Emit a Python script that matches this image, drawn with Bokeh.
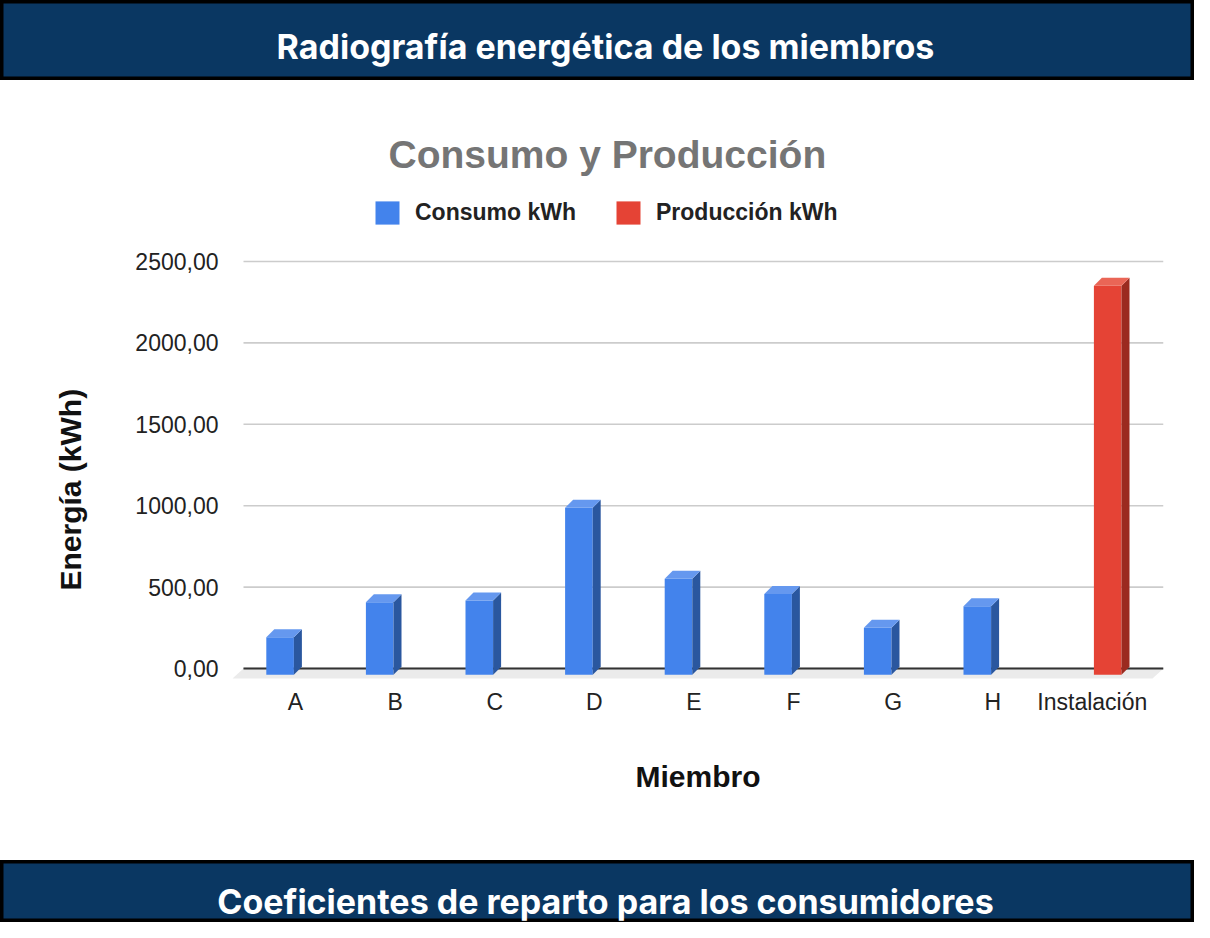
from bokeh.plotting import figure
from bokeh.models import Range1d, FixedTicker, Legend, LegendItem, Label, Title
from bokeh.layouts import column
from bokeh.embed import file_html
from bokeh.resources import INLINE

# ---------------- data ----------------
categorias = ["A", "B", "C", "D", "E", "F", "G", "H", "Instalación"]
consumo_kwh = [231, 446, 456, 1026, 590, 497, 289, 421, 0]
produccion_kwh = [0, 0, 0, 0, 0, 0, 0, 0, 2389]
series_names = ["Consumo kWh", "Producción kWh"]
y_ticks = [0, 500, 1000, 1500, 2000, 2500]
y_tick_labels = ["0,00", "500,00", "1000,00", "1500,00", "2000,00", "2500,00"]

header_text = "Radiografía energética de los miembros"
footer_text = "Coeficientes de reparto para los consumidores"
chart_title = "Consumo  y Producción"
y_title = "Energía (kWh)"
x_title = "Miembro"

# ---------------- style ----------------
W = 1194
HEADER_H, MAIN_H, FOOTER_H = 80, 780, 62
NAVY = "#0a3762"
FONT = "Liberation Sans"
BANNER_FONT = "Inter"

MB_LEFT, MB_RIGHT, MB_TOP, MB_BOTTOM = 232, 31, 110, 180
frame_w = W - MB_LEFT - MB_RIGHT
frame_h = MAIN_H - MB_TOP - MB_BOTTOM
PPU_X = 99.6          # pixels per category step
PPU_Y = 0.1628        # pixels per kWh
X0 = -63.0 / PPU_X
X1 = X0 + frame_w / PPU_X
Y0 = -12.0 / PPU_Y
Y1 = Y0 + frame_h / PPU_Y

BAR_W_PX = 27.6
DODGE_PX = 15.4
DEPTH_DX_PX, DEPTH_DY_PX = 8.0, 8.0
FRONT_DROP_PX = 6.3
FLOOR_DX_PX, FLOOR_DY_PX = 11.0, 10.0
GRID_LEFT_PX = 11.0

series_colors = [
    ("#4383ec", "#2a579f", "#6598ef"),  # front, side, top
    ("#e54335", "#9b2a1f", "#ea6556"),
]


def banner(h, text, ypos):
    b = figure(width=W, height=h, x_range=Range1d(0, 1), y_range=Range1d(0, 1),
               output_backend="svg", toolbar_location=None, min_border=0,
               x_axis_location=None, y_axis_location=None,
               background_fill_color=NAVY, border_fill_color=NAVY,
               outline_line_color="black", outline_line_width=6)
    b.frame_align = False
    b.grid.visible = False
    b.add_layout(Label(x=605 / W, y=ypos, text=text, text_align="center",
                       text_baseline="middle", text_color="white",
                       text_font=BANNER_FONT, text_font_style="bold",
                       text_font_size="34px"))
    return b


header = banner(HEADER_H, header_text, 0.425)
footer = banner(FOOTER_H, footer_text, 0.34)

# ---------------- main chart ----------------
p = figure(width=W, height=MAIN_H, x_range=Range1d(X0, X1), y_range=Range1d(Y0, Y1),
           output_backend="svg", toolbar_location=None,
           min_border_left=MB_LEFT, min_border_right=MB_RIGHT,
           min_border_top=MB_TOP, min_border_bottom=MB_BOTTOM,
           outline_line_color=None, background_fill_color="white",
           border_fill_color="white")
p.frame_align = False
p.xgrid.visible = False
p.ygrid.visible = False

p.title.text = chart_title
p.title.align = "left"
p.title.offset = 156
p.title.standoff = 30
p.title.text_font = FONT
p.title.text_font_size = "39px"
p.title.text_font_style = "bold"
p.title.text_color = "#757575"

# y axis
p.yaxis.ticker = FixedTicker(ticks=y_ticks, minor_ticks=[])
p.yaxis.major_label_overrides = dict(zip(y_ticks, y_tick_labels))
p.yaxis.major_label_standoff = 8
# x axis
x_idx = list(range(len(categorias)))
p.xaxis.ticker = FixedTicker(ticks=x_idx, minor_ticks=[])
p.xaxis.major_label_overrides = dict(zip(x_idx, categorias))
p.xaxis.axis_label = x_title
p.xaxis.major_label_standoff = 2
p.xaxis.axis_label_standoff = 42
for ax in (p.xaxis, p.yaxis):
    ax.axis_line_color = None
    ax.major_tick_line_color = None
    ax.minor_tick_line_color = None
    ax.major_label_text_font = FONT
    ax.major_label_text_font_size = "23px"
    ax.major_label_text_color = "#222222"
    ax.axis_label_text_font = FONT
    ax.axis_label_text_font_size = "30px"
    ax.axis_label_text_font_style = "bold"
    ax.axis_label_text_color = "#111111"

# y axis title, placed as a side title so it can sit lower than the frame centre
p.add_layout(Title(text=y_title, align="left", offset=90, standoff=92,
                   vertical_align="bottom", text_font=FONT, text_font_size="30px",
                   text_font_style="bold", text_color="#111111"), "left")

# floor, gridlines and baseline
gx0 = X0 + GRID_LEFT_PX / PPU_X
gx1 = X1
fdx = FLOOR_DX_PX / PPU_X
fdy = FLOOR_DY_PX / PPU_Y
p.patch([gx0, gx1, gx1 - fdx, gx0 - fdx], [0, 0, -fdy, -fdy],
        fill_color="#ebebeb", line_color=None)
p.segment(x0=[gx0] * len(y_ticks), x1=[gx1] * len(y_ticks), y0=y_ticks, y1=y_ticks,
          line_color="#cccccc", line_width=1.6)
p.segment(x0=[gx0], x1=[gx1], y0=[0], y1=[0], line_color="#333333", line_width=2)

# 3D bars
half_w = BAR_W_PX / 2 / PPU_X
ddx = DEPTH_DX_PX / PPU_X
ddy = DEPTH_DY_PX / PPU_Y
drop = FRONT_DROP_PX / PPU_Y
legend_items = []
for s, (vals, dodge_sign) in enumerate([(consumo_kwh, -1), (produccion_kwh, 1)]):
    front_c, side_c, top_c = series_colors[s]
    L, R, B, T = [], [], [], []
    side_xs, side_ys, top_xs, top_ys = [], [], [], []
    for i, v in enumerate(vals):
        if not v:
            continue
        c = i + dodge_sign * DODGE_PX / PPU_X
        l, r = c - half_w, c + half_w
        b, t = -drop, v - drop
        L.append(l); R.append(r); B.append(b); T.append(t)
        side_xs.append([r, r + ddx, r + ddx, r])
        side_ys.append([b, b + ddy, t + ddy, t])
        top_xs.append([l, r, r + ddx, l + ddx])
        top_ys.append([t, t, t + ddy, t + ddy])
    fr = p.quad(left=L, right=R, bottom=B, top=T, fill_color=front_c, line_color=None)
    p.patches(side_xs, side_ys, fill_color=side_c, line_color=None)
    p.patches(top_xs, top_ys, fill_color=top_c, line_color=None)
    legend_items.append(LegendItem(label=series_names[s], renderers=[fr]))

legend = Legend(items=legend_items, orientation="horizontal", location=(140, 453),
                glyph_width=30, glyph_height=29, label_height=23, label_standoff=13,
                spacing=37, padding=0, margin=0, border_line_color=None,
                background_fill_alpha=0, label_text_font=FONT,
                label_text_font_style="bold", label_text_font_size="23px",
                label_text_color="#222222")
p.add_layout(legend)

layout = column(header, p, footer, spacing=0)
open("out.html", "w").write(file_html(layout, INLINE))
